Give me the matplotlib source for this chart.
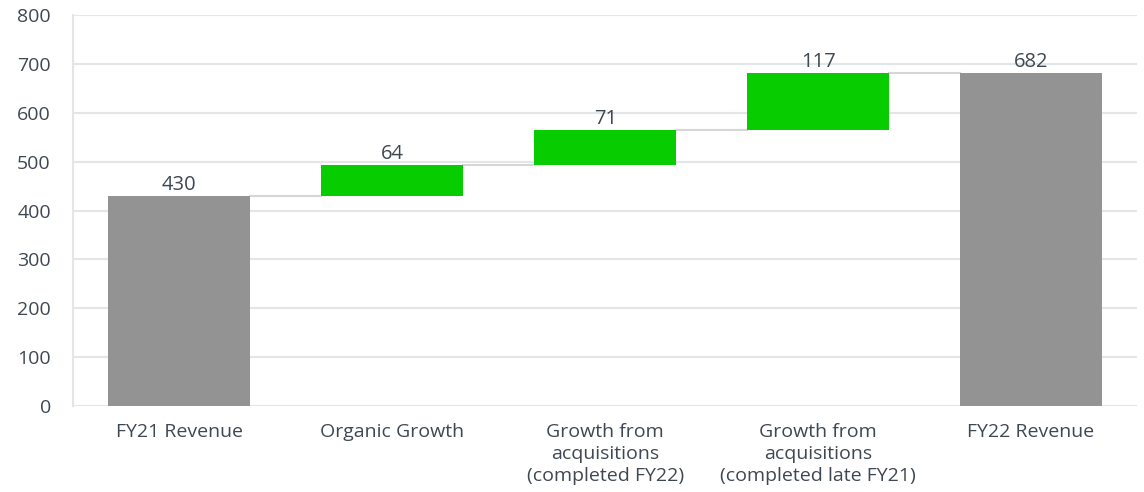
import numpy as np
import matplotlib.pyplot as plt

categories = ['FY21 Revenue', 'Organic Growth', 'Growth from\nacquisitions\n(completed FY22)',
              'Growth from\nacquisitions\n(completed late FY21)', 'FY22 Revenue']
values = [430, 64, 71, 117, 682]
is_total = [True, False, False, False, True]

plt.rcParams['font.family'] = ['Open Sans', 'DejaVu Sans']

fig = plt.figure(figsize=(11.44, 4.92), dpi=100)
ax = fig.add_axes([0.0638, 0.1748, 0.9305, 0.7947])

x = np.arange(len(categories))
bottoms = []
running = 0
for v, tot in zip(values, is_total):
    if tot:
        bottoms.append(0)
        running = v
    else:
        bottoms.append(running)
        running += v
tops = [b + v for b, v in zip(bottoms, values)]

colors = ['#939393' if t else '#07cc00' for t in is_total]
w = 0.667
ax.bar(x, values, bottom=bottoms, width=w, color=colors, zorder=3)

# connector lines
for i in range(len(x) - 1):
    ax.plot([x[i] + w / 2, x[i + 1] - w / 2], [tops[i], tops[i]],
            color='#d6d6d6', lw=1.5, zorder=2)

for xi, t, v in zip(x, tops, values):
    ax.text(xi, t + 2, str(v), ha='center', va='bottom', fontsize=14.5, color='#3f4852')

ax.set_xlim(-0.5, 4.5)
ax.set_ylim(0, 800)
ax.set_yticks(range(0, 801, 100))
ax.yaxis.grid(True, color='#e3e6e9', lw=1.5, zorder=0)
ax.set_xticks(x)
ax.set_xticklabels(categories, fontsize=14, color='#3f4852', linespacing=1.3)
ax.tick_params(axis='x', length=0, pad=12)
ax.tick_params(axis='y', length=0, pad=16, labelsize=14, labelcolor='#3f4852')
for s in ['top', 'right', 'bottom']:
    ax.spines[s].set_visible(False)
ax.spines['left'].set_color('#e3e6e9')
ax.spines['left'].set_linewidth(1.5)

fig.savefig('out.png', dpi=100)
